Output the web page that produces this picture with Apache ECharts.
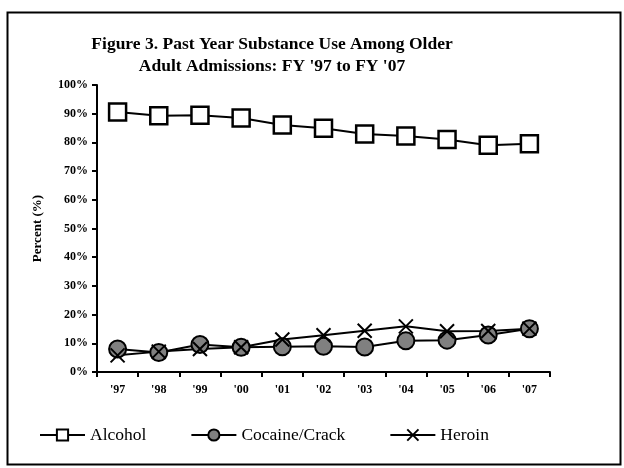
<!DOCTYPE html>
<html><head><meta charset="utf-8">
<script src="https://cdn.jsdelivr.net/npm/echarts@6/dist/echarts.min.js"></script>
<style>html,body{margin:0;padding:0;background:#fff}#c{width:624px;height:468px}</style>
</head><body><div id="c"></div>
<script>
const categories = ["'97","'98","'99","'00","'01","'02","'03","'04","'05","'06","'07"];
const alcohol = [90.6, 89.3, 89.5, 88.5, 86.1, 84.9, 82.9, 82.2, 81.0, 79.0, 79.5];
const cocaine = [8.0, 6.8, 9.6, 8.6, 8.8, 9.0, 8.7, 10.9, 11.1, 12.9, 15.1];
const heroin = [5.8, 7.1, 8.0, 8.6, 11.3, 12.8, 14.4, 15.9, 14.2, 14.3, 15.1];
const yTicks = [0,10,20,30,40,50,60,70,80,90,100];

const font = 'Liberation Serif, Times New Roman, serif';
const chart = echarts.init(document.getElementById('c'), null, {renderer:'canvas'});
chart.setOption({
  backgroundColor:'#fff',
  animation:false,
  title:{
    text:"Figure 3. Past Year Substance Use Among Older\nAdult Admissions: FY '97 to FY '07",
    left:267, top:28, textAlign:'center',
    textStyle:{fontFamily:font, fontSize:17.5, fontWeight:'bold', color:'#000', lineHeight:22}
  },
  legend:{
    bottom:19, left:34, itemGap:44, itemWidth:45, itemHeight:14,
    textStyle:{fontFamily:font, fontSize:17.5, color:'#000'},
    data:['Alcohol','Cocaine/Crack','Heroin']
  },
  grid:{left:97, right:74, top:85, bottom:96},
  xAxis:{
    type:'category', data:categories, boundaryGap:true,
    axisLine:{lineStyle:{color:'#000', width:2}},
    axisTick:{show:true, inside:false, length:5, lineStyle:{color:'#000', width:2}},
    axisLabel:{fontFamily:font, fontSize:12, fontWeight:'bold', color:'#000', margin:12},
    splitLine:{show:false}
  },
  yAxis:{
    type:'value', min:0, max:100, interval:10,
    name:'Percent (%)', nameLocation:'middle', nameGap:53, nameRotate:90,
    nameTextStyle:{fontFamily:font, fontSize:13, fontWeight:'bold', color:'#000'},
    axisLine:{show:true, lineStyle:{color:'#000', width:2}},
    axisTick:{show:true, length:5, lineStyle:{color:'#000', width:2}},
    axisLabel:{fontFamily:font, fontSize:12, fontWeight:'bold', color:'#000', margin:9,
      formatter:function(v){return v+'%';}},
    splitLine:{show:false}
  },
  series:[
    {name:'Alcohol', type:'line', data:alcohol, symbol:'rect', symbolSize:17,
     lineStyle:{color:'#000', width:2}, itemStyle:{color:'#fff', borderColor:'#000', borderWidth:2.5}},
    {name:'Cocaine/Crack', type:'line', data:cocaine, symbol:'circle', symbolSize:17,
     lineStyle:{color:'#000', width:2}, itemStyle:{color:'#808080', borderColor:'#000', borderWidth:2}},
    {name:'Heroin', type:'line', data:heroin, symbol:'path://M0,0L10,10M10,0L0,10', symbolSize:14,
     lineStyle:{color:'#000', width:2}, itemStyle:{color:'transparent', borderColor:'#000', borderWidth:2}}
  ],
  graphic:[
    {type:'rect', left:5, top:10, shape:{width:613, height:452}, style:{fill:'none', stroke:'#000', lineWidth:2}, silent:true}
  ]
});
</script></body></html>
